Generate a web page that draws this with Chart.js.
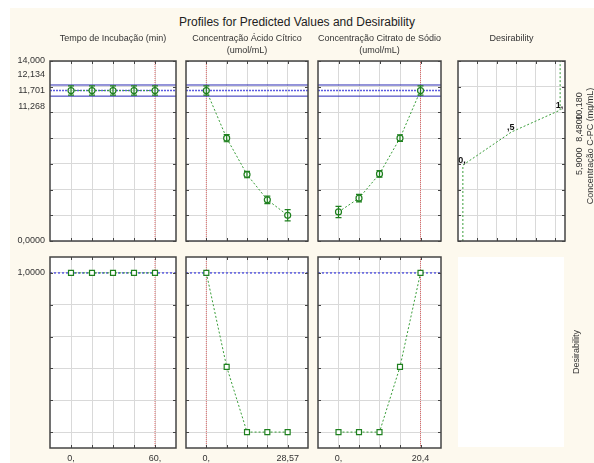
<!DOCTYPE html>
<html lang="pt">
<head>
<meta charset="utf-8">
<title>Profiles for Predicted Values and Desirability</title>
<script src="https://cdn.jsdelivr.net/npm/chart.js@4.4.1/dist/chart.umd.min.js"></script>
<style>
  html, body { margin: 0; padding: 0; background: #fff; }
  #page { position: relative; width: 594px; height: 463px; overflow: hidden;
          font-family: 'Liberation Sans', Arial, sans-serif; color: #333; }
  #paper { position: absolute; left: 10px; top: 8px; right: 0; bottom: 0; background: #fdf9ee; }
  #page canvas { position: absolute; left: 0; top: 0; }
  .title { position: absolute; left: 0; width: 594px; top: 15px; text-align: center;
           font-size: 12px; color: #222; }
  .ptitle { position: absolute; text-align: center; font-size: 9px; line-height: 12px;
            white-space: nowrap; transform: translateX(-50%); }
  .vtitle { position: absolute; font-size: 9px; white-space: nowrap;
            transform: translate(-50%, -50%) rotate(-90deg); }
  .blank { position: absolute; background: #fff; }
</style>
</head>
<body>
<div id="page">
  <div id="paper"></div>
  <div class="title">Profiles for Predicted Values and Desirability</div>
</div>
<script>
/* Profiles for predicted values and desirability (Statistica style) */

// ─── Data ───
const tempoLevels   = [0, 15, 30, 45, 60];
const citricoLevels = [0, 7.1425, 14.285, 21.4275, 28.57];
const citratoLevels = [0, 5.1, 10.2, 15.3, 20.4];

// predicted C-PC (mg/mL) at each level
const tempoPred   = [11.701, 11.701, 11.701, 11.701, 11.701];
const citricoPred = [11.701, 8.0, 5.17, 3.2, 2.0];
const citratoPred = [2.26, 3.33, 5.22, 8.0, 11.701];

// half width of the confidence bars
const tempoErr   = [0.36, 0.36, 0.36, 0.36, 0.36];
const citricoErr = [0.36, 0.28, 0.25, 0.29, 0.44];
const citratoErr = [0.44, 0.29, 0.26, 0.26, 0.36];

// desirability at each level
const tempoDesir   = [1, 1, 1, 1, 1];
const citricoDesir = [1, 0.41, 0, 0, 0];
const citratoDesir = [0, 0, 0, 0.41, 1];

// current settings and prediction
const currentLevels = [60, 0, 20.4];
const predValue = 11.701;
const predLow   = 11.268;
const predHigh  = 12.134;
const overallDesir = 1;

// desirability function of C-PC
const desirCurveX = [0, 0, 0.5, 1, 1];
const desirCurveY = [0, 5.9, 8.48, 10.18, 14];

// grid / tick values
const cpcTicks   = [0, 2, 4, 6, 8, 10, 12, 14];
const desirTicks = [0, 0.2, 0.4, 0.6, 0.8, 1];
const desirGridX = [0.15, 0.35, 0.55, 0.75, 0.95];

const panelTitles = [
  ['Tempo de Incubação (min)'],
  ['Concentração Ácido Cítrico', '(umol/mL)'],
  ['Concentração Citrato de Sódio', '(umol/mL)'],
  ['Desirability']
];
const rightTitles = ['Concentração C-PC (mg/mL)', 'Desirability'];

// ─── Layout (page pixels) ───
const W = 594, H = 463;
const cols   = [[50, 176], [186, 308], [318, 441], [458, 565]];
const topRow = [61, 241];
const botRow = [257, 448];
const AXIS_W = 48, AXIS_H = 15;   // room kept for tick labels

const FONT = "'Liberation Sans', Arial, sans-serif";
const tickFont = { family: FONT, size: 9 };
const GREEN = '#1f801f', GREEN_LINE = '#3a9e3a';
const BLUE = '#2a2ab4', BLUE_DOT = '#5c5ce0', RED = '#e06a6a';
const GRID = '#d9d9d9';

Chart.defaults.animation = false;
Chart.defaults.font.family = FONT;

// ─── Number formats ───
const fmtSig = v => v.toPrecision(5).replace('.', ',');
function fmtShort(v) {
  let s = String(v).replace('.', ',');
  if (Number.isInteger(v)) s += ',';
  else if (s.startsWith('0,')) s = s.slice(1);
  return s;
}

const page = document.getElementById('page');

// ─── Plugins ───
const framePlugin = {
  id: 'frame',
  beforeDraw(chart) {
    const { ctx, chartArea: a } = chart;
    ctx.save();
    ctx.fillStyle = '#fff';
    ctx.fillRect(a.left, a.top, a.width, a.height);
    ctx.restore();
  },
  afterDraw(chart) {
    const { ctx, chartArea: a, scales: { x, y } } = chart;
    ctx.save();
    ctx.strokeStyle = '#444';
    ctx.lineWidth = 1;
    ctx.beginPath();
    x.ticks.forEach(t => {
      const px = Math.round(x.getPixelForValue(t.value)) + 0.5;
      ctx.moveTo(px, a.top); ctx.lineTo(px, a.top + 3);
      ctx.moveTo(px, a.bottom); ctx.lineTo(px, a.bottom - 3);
    });
    y.ticks.forEach(t => {
      const py = Math.round(y.getPixelForValue(t.value)) + 0.5;
      ctx.moveTo(a.left, py); ctx.lineTo(a.left + 3, py);
      ctx.moveTo(a.right, py); ctx.lineTo(a.right - 3, py);
    });
    ctx.stroke();
    ctx.lineWidth = 1.5;
    ctx.strokeRect(a.left, a.top, a.width, a.height);
    ctx.restore();
  }
};

const errorBarPlugin = {
  id: 'errorBars',
  afterDatasetsDraw(chart) {
    const { ctx, scales: { y } } = chart;
    chart.data.datasets.forEach((ds, i) => {
      if (!ds.errors) return;
      const meta = chart.getDatasetMeta(i);
      ctx.save();
      ctx.strokeStyle = GREEN;
      ctx.lineWidth = 1.2;
      ctx.beginPath();
      meta.data.forEach((pt, j) => {
        const v = ds.data[j].y, e = ds.errors[j];
        const t = y.getPixelForValue(v + e), b = y.getPixelForValue(v - e);
        ctx.moveTo(pt.x, t); ctx.lineTo(pt.x, b);
        ctx.moveTo(pt.x - 3, t); ctx.lineTo(pt.x + 3, t);
        ctx.moveTo(pt.x - 3, b); ctx.lineTo(pt.x + 3, b);
      });
      ctx.stroke();
      ctx.restore();
    });
  }
};

// confidence labels on the first y axis, spread apart like Statistica does
const ciLabelPlugin = {
  id: 'ciLabels',
  afterDraw(chart) {
    const { ctx, chartArea: a, scales: { y } } = chart;
    const mid = y.getPixelForValue(predValue);
    const hi = Math.min(y.getPixelForValue(predHigh), mid - 16);
    const lo = Math.max(y.getPixelForValue(predLow), mid + 16);
    ctx.save();
    ctx.font = `9px ${FONT}`;
    ctx.fillStyle = '#333';
    ctx.textAlign = 'right';
    ctx.textBaseline = 'middle';
    [[predHigh, hi], [predValue, mid], [predLow, lo]].forEach(([v, py]) => {
      ctx.fillText(fmtSig(v), a.left - 5, py);
    });
    ctx.restore();
  }
};

// knot labels of the desirability function + rotated C-PC values on the right
const knotPlugin = {
  id: 'knots',
  afterDraw(chart) {
    const { ctx, chartArea: a, scales: { x, y } } = chart;
    ctx.save();
    for (let i = 1; i < desirCurveX.length - 1; i++) {
      const px = x.getPixelForValue(desirCurveX[i]);
      const py = y.getPixelForValue(desirCurveY[i]);
      ctx.font = `bold 9px ${FONT}`;
      ctx.fillStyle = '#111';
      ctx.textAlign = 'right';
      ctx.textBaseline = 'bottom';
      ctx.fillText(fmtShort(desirCurveX[i]), px + 3, py);

      ctx.save();
      ctx.translate(a.right + 15, py - 4);
      ctx.rotate(-Math.PI / 2);
      ctx.font = `9px ${FONT}`;
      ctx.fillStyle = '#333';
      ctx.textAlign = 'center';
      ctx.textBaseline = 'middle';
      ctx.fillText(fmtSig(desirCurveY[i]), 0, 0);
      ctx.restore();
    }
    ctx.restore();
  }
};

// ─── Helpers ───
function xScale(min, max, grid, labelFn) {
  return {
    type: 'linear', min, max,
    afterBuildTicks: s => { s.ticks = grid.map(v => ({ value: v })); },
    afterFit: s => { s.height = AXIS_H; },
    grid: { color: GRID, drawTicks: false },
    border: { display: false },
    ticks: { display: !!labelFn, autoSkip: false, maxRotation: 0, padding: 5,
             font: tickFont, color: '#333', callback: labelFn || (() => '') }
  };
}

function yScale(min, max, grid, labelFn) {
  return {
    type: 'linear', min, max,
    afterBuildTicks: s => { s.ticks = grid.map(v => ({ value: v })); },
    afterFit: s => { s.width = AXIS_W; },
    grid: { color: GRID, drawTicks: false },
    border: { display: false },
    ticks: { display: !!labelFn, autoSkip: false, padding: 5,
             font: tickFont, color: '#333', callback: labelFn || (() => '') }
  };
}

function refLine(xs, ys, color, width, dash) {
  return {
    data: xs.map((x, i) => ({ x, y: ys[i] })),
    showLine: true, borderColor: color, borderWidth: width, borderDash: dash,
    pointRadius: 0, fill: false
  };
}

function makeChart(col, row, datasets, scales, extraPlugins) {
  const canvas = document.createElement('canvas');
  canvas.width = W; canvas.height = H;
  page.appendChild(canvas);
  return new Chart(canvas, {
    type: 'scatter',
    data: { datasets },
    options: {
      responsive: false,
      devicePixelRatio: 1,
      events: [],
      layout: { padding: { left: col[0] - AXIS_W, top: row[0], right: W - col[1], bottom: H - row[1] - AXIS_H } },
      plugins: { legend: { display: false }, tooltip: { enabled: false } },
      scales
    },
    plugins: [framePlugin, errorBarPlugin].concat(extraPlugins || [])
  });
}

// ─── Factor panels ───
const factors = [
  { levels: tempoLevels,   pred: tempoPred,   err: tempoErr,   desir: tempoDesir },
  { levels: citricoLevels, pred: citricoPred, err: citricoErr, desir: citricoDesir },
  { levels: citratoLevels, pred: citratoPred, err: citratoErr, desir: citratoDesir }
];

factors.forEach((f, k) => {
  const lv = f.levels;
  const step = lv[1] - lv[0];
  const xMin = lv[0] - step, xMax = lv[lv.length - 1] + step;
  const cur = currentLevels[k];
  const first = k === 0;

  // top: predicted C-PC
  makeChart(cols[k], topRow, [
    {
      data: lv.map((x, i) => ({ x, y: f.pred[i] })), errors: f.err,
      showLine: true, borderColor: GREEN_LINE, borderWidth: 1, borderDash: [2, 2],
      pointStyle: 'circle', pointRadius: 3, pointBorderWidth: 1.2,
      pointBorderColor: GREEN, pointBackgroundColor: 'rgba(255,255,255,0.7)'
    },
    refLine([xMin, xMax], [predValue, predValue], BLUE_DOT, 1.5, [2, 1]),
    refLine([xMin, xMax], [predHigh, predHigh], BLUE, 1, []),
    refLine([xMin, xMax], [predLow, predLow], BLUE, 1, []),
    refLine([cur, cur], [0, 14], RED, 1, [1, 1])
  ], {
    x: xScale(xMin, xMax, lv, null),
    y: yScale(0, 14, cpcTicks, first ? (v => (v === 0 || v === 14) ? fmtSig(v) : '') : null)
  }, first ? [ciLabelPlugin] : []);

  // bottom: desirability
  makeChart(cols[k], botRow, [
    {
      data: lv.map((x, i) => ({ x, y: f.desir[i] })),
      showLine: true, borderColor: GREEN_LINE, borderWidth: 1, borderDash: [2, 2],
      pointStyle: 'rect', pointRadius: 3.5, pointBorderWidth: 1.2,
      pointBorderColor: GREEN, pointBackgroundColor: '#fff'
    },
    refLine([xMin, xMax], [overallDesir, overallDesir], BLUE_DOT, 1.5, [2, 2]),
    refLine([cur, cur], [-0.1, 1.1], RED, 1, [1, 1])
  ], {
    x: xScale(xMin, xMax, lv, (v, i) => (i === 0 || i === lv.length - 1) ? fmtShort(lv[i]) : ''),
    y: yScale(-0.1, 1.1, desirTicks, first ? (v => v === 1 ? fmtSig(v) : '') : null)
  });
});

// ─── Desirability function panel ───
makeChart(cols[3], topRow, [
  {
    data: desirCurveX.map((x, i) => ({ x, y: desirCurveY[i] })),
    showLine: true, borderColor: GREEN_LINE, borderWidth: 1, borderDash: [2, 2],
    pointRadius: 0
  }
], {
  x: xScale(-0.05, 1.05, desirGridX, null),
  y: yScale(0, 14, cpcTicks, null)
}, [knotPlugin]);

// ─── Text ───
panelTitles.forEach((lines, k) => {
  const d = document.createElement('div');
  d.className = 'ptitle';
  d.style.left = ((cols[k][0] + cols[k][1]) / 2) + 'px';
  d.style.top = '32px';
  d.innerHTML = lines.join('<br>');
  page.appendChild(d);
});

const blank = document.createElement('div');
blank.className = 'blank';
blank.style.left = cols[3][0] + 'px';
blank.style.width = (cols[3][1] - 1 - cols[3][0]) + 'px';
blank.style.top = botRow[0] + 'px';
blank.style.height = (botRow[1] - 1 - botRow[0]) + 'px';
page.appendChild(blank);

[[rightTitles[0], 590, 146], [rightTitles[1], 576, 352]].forEach(([txt, x, y]) => {
  const d = document.createElement('div');
  d.className = 'vtitle';
  d.style.left = x + 'px';
  d.style.top = y + 'px';
  d.textContent = txt;
  page.appendChild(d);
});
</script>
</body>
</html>
